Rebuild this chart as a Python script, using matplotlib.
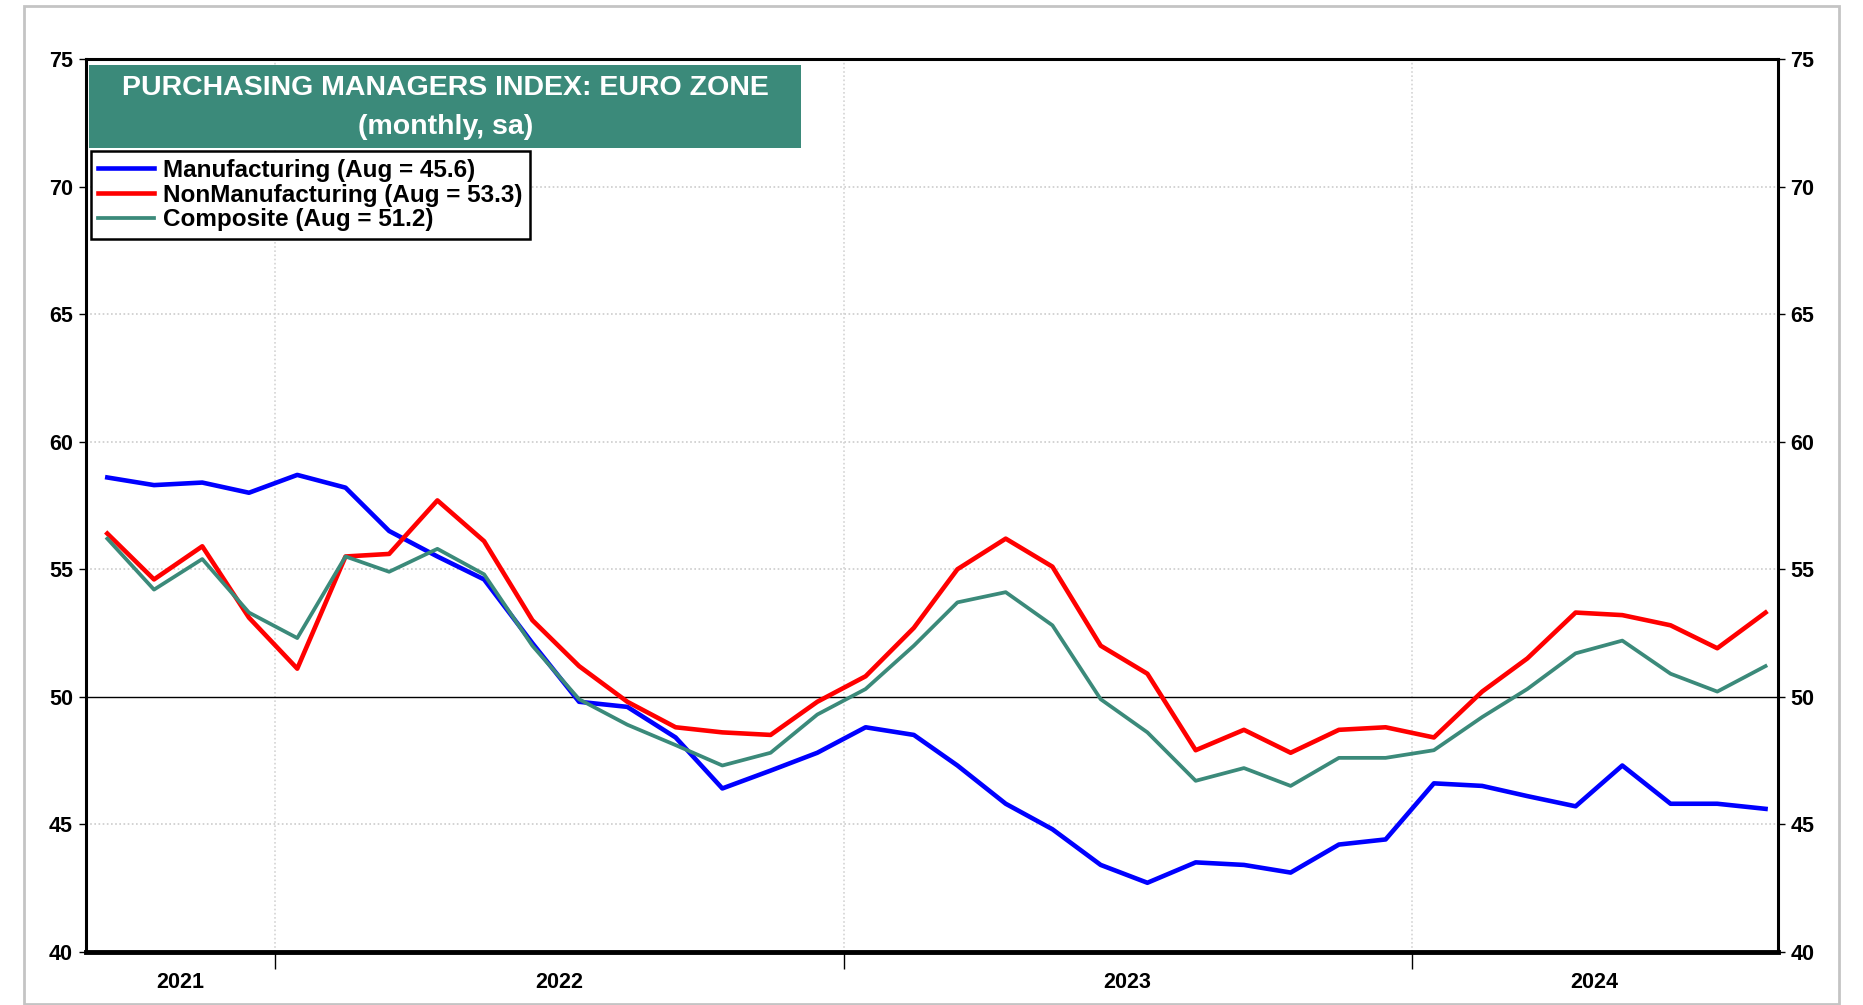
import datetime as dt
import matplotlib
matplotlib.use("Agg")
import matplotlib.pyplot as plt
import matplotlib.dates as mdates
from matplotlib.patches import Rectangle

plt.rcParams['font.family'] = ['Liberation Sans', 'DejaVu Sans']
plt.rcParams['font.weight'] = 'bold'

# monthly data, Sep 2021 .. Aug 2024
start_year, start_month = 2021, 9
manufacturing = [58.6, 58.3, 58.4, 58.0, 58.7, 58.2, 56.5, 55.5, 54.6, 52.1, 49.8, 49.6,
                 48.4, 46.4, 47.1, 47.8, 48.8, 48.5, 47.3, 45.8, 44.8, 43.4, 42.7, 43.5,
                 43.4, 43.1, 44.2, 44.4, 46.6, 46.5, 46.1, 45.7, 47.3, 45.8, 45.8, 45.6]
non_manufacturing = [56.4, 54.6, 55.9, 53.1, 51.1, 55.5, 55.6, 57.7, 56.1, 53.0, 51.2, 49.8,
                     48.8, 48.6, 48.5, 49.8, 50.8, 52.7, 55.0, 56.2, 55.1, 52.0, 50.9, 47.9,
                     48.7, 47.8, 48.7, 48.8, 48.4, 50.2, 51.5, 53.3, 53.2, 52.8, 51.9, 53.3]
composite = [56.2, 54.2, 55.4, 53.3, 52.3, 55.5, 54.9, 55.8, 54.8, 52.0, 49.9, 48.9,
             48.1, 47.3, 47.8, 49.3, 50.3, 52.0, 53.7, 54.1, 52.8, 49.9, 48.6, 46.7,
             47.2, 46.5, 47.6, 47.6, 47.9, 49.2, 50.3, 51.7, 52.2, 50.9, 50.2, 51.2]
labels = ["Manufacturing (Aug = 45.6)", "NonManufacturing (Aug = 53.3)", "Composite (Aug = 51.2)"]
years = [2021, 2022, 2023, 2024]

dates = []
for i in range(len(manufacturing)):
    m = start_month - 1 + i
    dates.append(dt.date(start_year + m // 12, m % 12 + 1, 15))

teal = "#3b8a7a"
fig = plt.figure(figsize=(18.63, 10.05), dpi=100)
ax = fig.add_axes([85.5 / 1863, 1 - 951.6 / 1005, (1778 - 85.5) / 1863, (951.6 - 59.4) / 1005])

ax.plot(dates, manufacturing, color="#0000ff", lw=3.3, label=labels[0], zorder=4)
ax.plot(dates, non_manufacturing, color="#ff0000", lw=3.3, label=labels[1], zorder=4)
ax.plot(dates, composite, color=teal, lw=2.7, label=labels[2], zorder=4)

x0 = dt.date(2021, 9, 1)
x1 = dt.date(2024, 8, 23)
ax.set_xlim(x0, x1)
ax.set_ylim(40, 75)
ax.axhline(50, color="black", lw=1.0, zorder=3)

# y axis both sides
ax.set_yticks(range(40, 80, 5))
ax.tick_params(axis="y", which="both", left=True, right=True, labelleft=True, labelright=True,
               labelsize=15.5, length=5, width=1, pad=4)
for y in range(45, 75, 5):
    if y != 50:
        ax.axhline(y, color="#cccccc", lw=1.2, ls=(0, (1, 1.5)), zorder=1)

# year boundaries as major ticks, year labels as minor ticks
bounds = [dt.date(y, 1, 1) for y in years[1:]]
ax.set_xticks(bounds)
ax.set_xticklabels([])
ax.tick_params(axis="x", which="major", length=12, width=1, direction="out")
for b in bounds:
    ax.axvline(b, color="#d4d4d4", lw=1.2, ls=(0, (1, 1.5)), zorder=1)
edges = [x0] + bounds + [x1]
centers = [edges[i] + (edges[i + 1] - edges[i]) / 2 for i in range(len(years))]
ax.set_xticks(centers, minor=True)
ax.set_xticklabels([str(y) for y in years], minor=True)
ax.tick_params(axis="x", which="minor", length=0, labelsize=15.5, pad=15)

for side in ["left", "right", "top"]:
    ax.spines[side].set_linewidth(2.2)
ax.spines["bottom"].set_linewidth(3.5)

# title box
ax.add_patch(Rectangle((0.002, 0.901), 0.421, 0.093, transform=ax.transAxes,
                       facecolor=teal, edgecolor="none", zorder=5))
ax.text(0.2125, 0.968, "PURCHASING MANAGERS INDEX: EURO ZONE", transform=ax.transAxes,
        ha="center", va="center", color="white", fontsize=20.5, fontweight="bold", zorder=6)
ax.text(0.2125, 0.924, "(monthly, sa)", transform=ax.transAxes,
        ha="center", va="center", color="white", fontsize=20.5, fontweight="bold", zorder=6)

leg = ax.legend(loc="upper left", bbox_to_anchor=(0.003, 0.897), fontsize=17.5, frameon=True,
                fancybox=False, edgecolor="black", framealpha=1, borderpad=0.3,
                labelspacing=0.08, handlelength=2.3, handletextpad=0.4, borderaxespad=0)
leg.get_frame().set_linewidth(1.8)
leg.set_zorder(6)

# outer frame
fig.patches.append(Rectangle((24 / 1863, 1 / 1005), 1815 / 1863, 998 / 1005,
                             transform=fig.transFigure, fill=False,
                             edgecolor="#c4c4c4", lw=2.0))

fig.savefig("out.png", dpi=100)
